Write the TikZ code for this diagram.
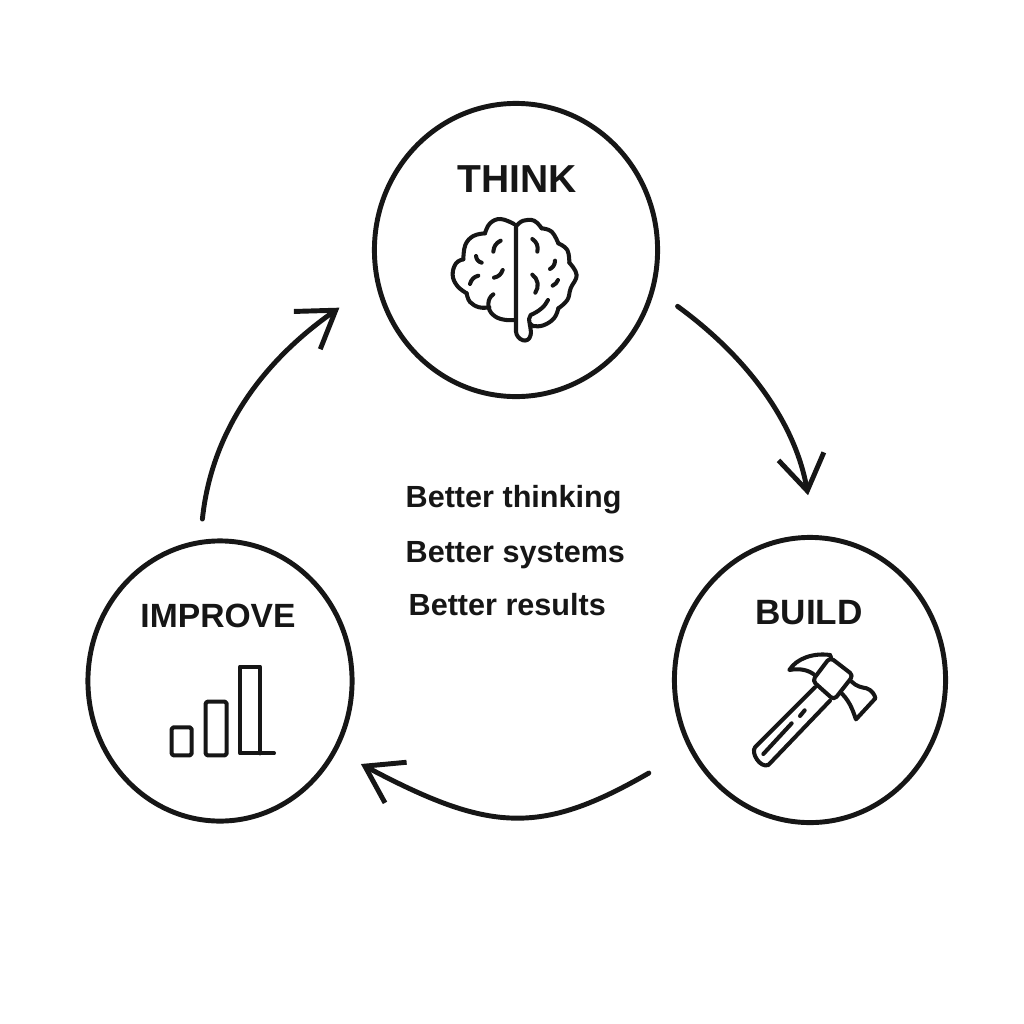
\documentclass[tikz,border=0pt]{standalone}
\usepackage{fontspec}
\setmainfont{Liberation Sans}
\usetikzlibrary{arrows.meta,positioning,shapes.geometric}
\tikzset{
  stage/.style={ellipse,draw=inkc,line width=1.4pt,inner sep=0pt},
  title/.style={font=\bfseries\fontsize{11.1pt}{12pt}\selectfont,text=inkc,inner sep=0pt},
  line/.style={font=\bfseries\fontsize{8.7pt}{10pt}\selectfont,text=inkc,inner sep=0pt,anchor=base west},
  flow/.style={draw=inkc,line width=1.4pt,line cap=round,-{Straight Barb[length=3.5mm,width=4.6mm,line width=1.4pt]}},
  icon/.style={draw=inkc,line width=1.15pt,line join=round,line cap=round}
}
\definecolor{inkc}{HTML}{161616}
\begin{document}
\begin{tikzpicture}[x=0.01cm,y=-0.01cm]
\useasboundingbox (0,0) rectangle (1024,1024);
\node[stage,minimum width=2.83cm,minimum height=2.93cm] (think) at (516,250) {};
\node[stage,minimum width=2.71cm,minimum height=2.85cm] (build) at (810,680) {};
\node[stage,minimum width=2.64cm,minimum height=2.80cm] (improve) at (220,681) {};
\node[title] (think_t) at (517,179) {THINK};
\node[title,font=\bfseries\fontsize{10pt}{11pt}\selectfont] (build_t) at (809,613) {BUILD};
\node[title,font=\bfseries\fontsize{9.56pt}{11pt}\selectfont] (improve_t) at (218,616) {IMPROVE};
\node[line] (l_1) at (405,507) {Better thinking};
\node[line] (l_2) at (405,562) {Better systems};
\node[line] (l_3) at (408,615) {Better results};
\draw[flow,shorten <=8pt,shorten >=11.5pt] (think.-16) to[out=-36,in=100] (build.88);
\draw[flow,shorten <=13.2pt,shorten >=7.7pt] (build.210) to[out=-150,in=-28,looseness=1.25] (improve.-31);
\draw[flow,shorten <=6pt,shorten >=12.5pt] (improve.98) to[out=84,in=-145] (think.193);
% brain
\begin{scope}[shift={(430,200)},xscale=1/3,yscale=1/3]
\draw[icon] (258,75) -- (258,395)
  .. controls (260,420) and (295,435) .. (302,405)
  .. controls (306,385) and (290,355) .. (302,345)
  .. controls (325,335) and (345,320) .. (354,300);
\draw[icon] plot[smooth,tension=.7] coordinates {(252,72) (212,57) (180,70) (165,100)};
\draw[icon] plot[smooth,tension=.7] coordinates {(165,100) (130,108) (106,135) (100,178)};
\draw[icon] plot[smooth,tension=.7] coordinates {(100,178) (78,190) (68,225) (82,258) (110,280)};
\draw[icon] plot[smooth,tension=.7] coordinates {(110,280) (120,306) (148,322) (178,322)};
\draw[icon] (190,283) .. controls (170,295) and (170,330) .. (190,345) .. controls (205,360) and (235,362) .. (258,360);
\draw[icon] plot[smooth,tension=.7] coordinates {(262,75) (280,62) (312,62) (335,85)};
\draw[icon] plot[smooth,tension=.7] coordinates {(335,85) (365,95) (385,130)};
\draw[icon] plot[smooth,tension=.7] coordinates {(385,130) (412,150) (418,188)};
\draw[icon] plot[smooth,tension=.7] coordinates {(418,188) (440,225) (422,265) (412,300) (385,325)};
\draw[icon] plot[smooth,tension=.7] coordinates {(385,325) (372,355) (340,376) (310,378) (302,372)};
\draw[icon] (212,122) to[bend right=30] (190,155);
\draw[icon] (138,168) to[bend right=35] (155,188);
\draw[icon] (145,227) to[bend right=30] (120,252);
\draw[icon] (218,210) to[bend left=30] (192,233);
\draw[icon] (307,117) to[bend left=35] (322,155);
\draw[icon] (375,182) to[bend left=30] (360,207);
\draw[icon] (307,224) to[bend left=45] (316,278);
\draw[icon] (384,240) to[bend left=20] (368,257);
\end{scope}
% hammer
\begin{scope}[shift={(730,640)},xscale=1/3,yscale=1/3]
\draw[icon,rounded corners=1.2pt] (300,52) -- (370,106) -- (312,180) -- (247,122) -- cycle;
\draw[icon] (300,45) .. controls (250,38) and (200,55) .. (178,90) .. controls (205,85) and (230,88) .. (250,102);
\draw[icon] (300,45) -- (303,52);
\draw[icon] (365,125) .. controls (380,140) and (395,142) .. (410,145) .. controls (425,150) and (435,165) .. (436,175) -- (378,238) .. controls (372,225) and (365,190) .. (335,160);
\draw[icon] (255,142) -- (75,322) .. controls (62,338) and (90,385) .. (115,375) -- (300,182);
\draw[icon] (100,342) -- (185,250);
\draw[icon] (210,228) -- (224,211);
\end{scope}
% bars
\begin{scope}[shift={(150,650)},xscale=1/3,yscale=1/3]
\draw[icon,rounded corners=.5pt] (65,232) rectangle (125,316);
\draw[icon,rounded corners=.5pt] (167,155) rectangle (230,316);
\draw[icon] (330,310) -- (330,50) -- (270,50) -- (270,310) -- (372,310);
\end{scope}
\end{tikzpicture}
\end{document}
